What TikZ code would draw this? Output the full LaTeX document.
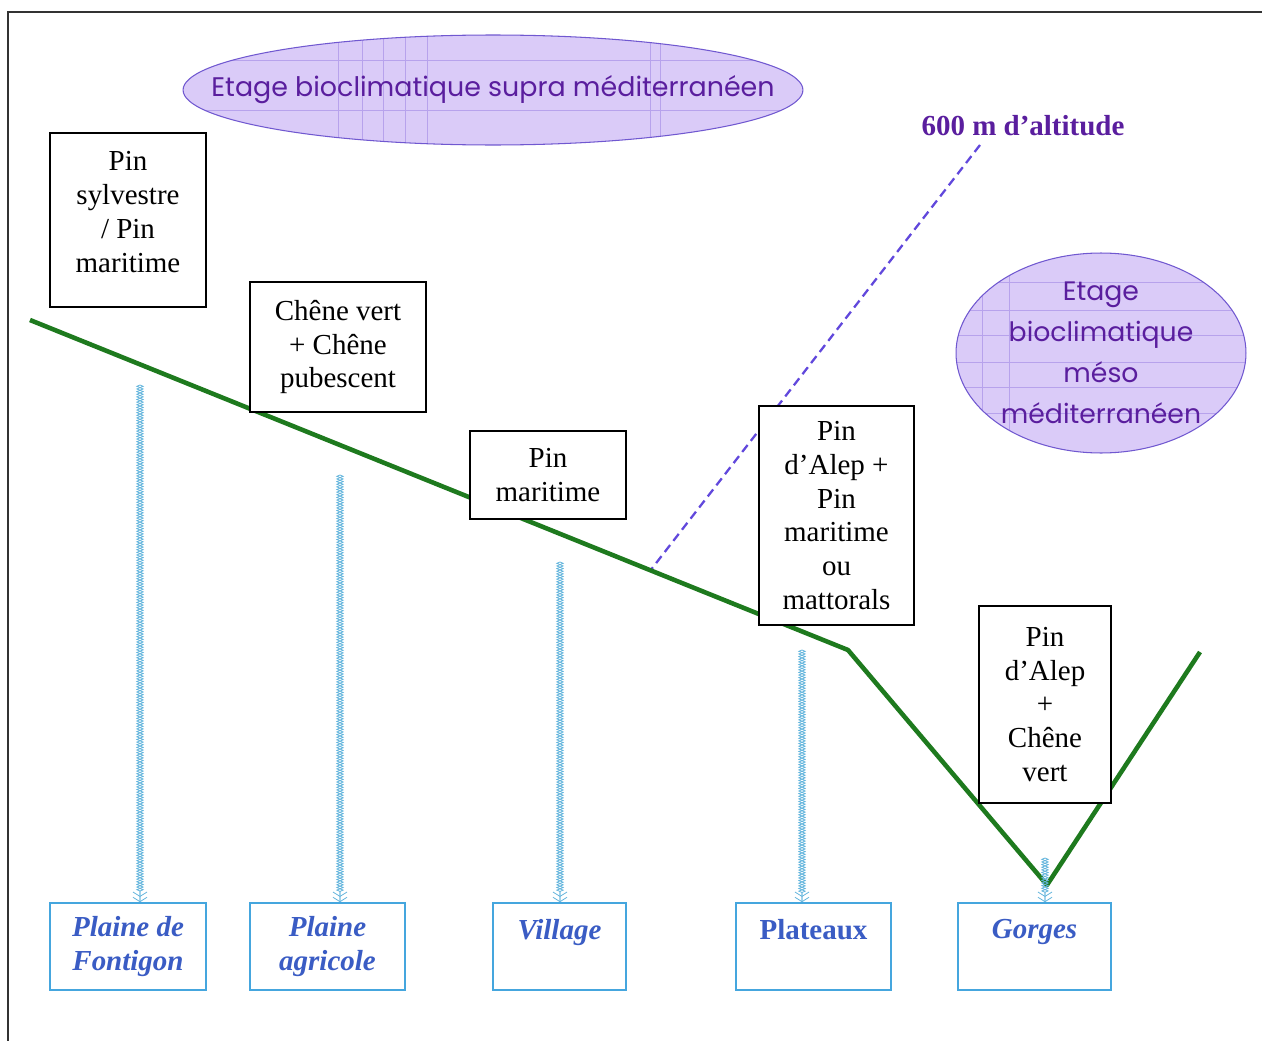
\documentclass[tikz,border=0pt]{standalone}
\usepackage{fontspec}
\setmainfont{Liberation Serif}
\newfontfamily\comicfont{Poppins}
\usetikzlibrary{shapes.geometric,arrows.meta,decorations.pathmorphing}
\definecolor{slope}{HTML}{1E7A1E}
\definecolor{lilac}{HTML}{DACBF8}
\definecolor{lilacline}{HTML}{7058D0}
\definecolor{lilacgrid}{HTML}{B7A2EC}
\definecolor{etagetext}{HTML}{5A1E9E}
\definecolor{placeline}{HTML}{45A6DE}
\definecolor{placetext}{HTML}{3A5CC4}
\definecolor{flowblue}{HTML}{62B4DC}
\definecolor{altblue}{HTML}{6148DC}

\begin{document}
\begin{tikzpicture}[x=0.02cm, y=-0.02cm,
    veg/.style={draw, fill=white, line width=0.8pt, align=center,
      font=\fontsize{16.5}{19.3}\selectfont, inner sep=0pt},
    place/.style={draw=placeline, fill=white, line width=1pt, align=center,
      text=placetext, font=\fontsize{16.5}{19.5}\selectfont\bfseries\itshape,
      minimum height=1.74cm, inner sep=0pt},
    etage/.style={ellipse, draw=lilacline, fill=lilac, line width=0.6pt,
      text=etagetext, align=center},
    gridln/.style={lilacgrid, line width=0.4pt},
    ridge/.style={slope, line width=2.6pt, line join=round},
    flow/.style={draw=none,
      postaction={draw=flowblue, line width=0.45pt, decorate,
        decoration={zigzag, segment length=3pt, amplitude=1.8pt, post length=5pt},
        -{Straight Barb[length=2.5pt,width=8pt] Straight Barb[length=2.5pt,width=8pt]}},
      postaction={draw=flowblue, line width=0.45pt, decorate,
        decoration={zigzag, mirror, segment length=3pt, amplitude=1.8pt, post length=5pt}}},
    altline/.style={altblue, line width=1.3pt, dash pattern=on 5pt off 3pt}]
    \useasboundingbox (0,0) rectangle (1262,1041);
    \draw[black!80, line width=1.1pt] (8,1041) -- (8,12) -- (1262,12);

    \node[etage, minimum width=12.4cm, minimum height=2.2cm,
      inner xsep=-1.6cm, inner ysep=0pt,
      font=\comicfont\fontsize{15.3}{18}\selectfont,
      path picture={
        \foreach \gx in {3.1,3.58,4.0,4.44,4.88,9.34,9.54}
          \draw[gridln] ([xshift=\gx cm]path picture bounding box.north west)
            -- ([xshift=\gx cm]path picture bounding box.south west);
        \foreach \gy in {0.5,1.5}
          \draw[gridln] ([yshift=-\gy cm]path picture bounding box.north west)
            -- ([yshift=-\gy cm]path picture bounding box.north east);
      }] (supra) at (493,90) {Etage bioclimatique supra méditerranéen};
    \node[etage, minimum width=5.8cm, minimum height=4cm,
      inner xsep=-0.5cm, inner ysep=-0.6cm,
      font=\comicfont\fontsize{15.2}{23.3}\selectfont,
      path picture={
        \foreach \gx in {0.52,1.06}
          \draw[gridln] ([xshift=\gx cm]path picture bounding box.north west)
            -- ([xshift=\gx cm]path picture bounding box.south west);
        \foreach \gy in {0.58,1.14,1.64,2.18,2.68,3.2}
          \draw[gridln] ([yshift=-\gy cm]path picture bounding box.north west)
            -- ([yshift=-\gy cm]path picture bounding box.north east);
      }] (meso) at (1101,353) {Etage\\bioclimatique\\méso\\méditerranéen};

    \node[text=etagetext, font=\fontsize{16.5}{19}\selectfont\bfseries] (alt) at (1023,126) {600 m d’altitude};
    \coordinate (d0) at (980,145);
    \coordinate (d1) at (650,571);
    \draw[altline] (d0) -- (d1);

    \coordinate (g0) at (30,320);
    \coordinate (g1) at (848,650);
    \coordinate (g2) at (1047,885);
    \coordinate (g3) at (1200,652);
    \draw[ridge] (g0) -- (g1) -- (g2) -- (g3);

    \node[veg, minimum width=3.12cm, minimum height=3.48cm] (sylv) at (128,220) {Pin\\sylvestre\\/ Pin\\maritime\\[-0.36cm]};
    \node[veg, minimum width=3.52cm, minimum height=2.6cm] (chene) at (338,347) {Chêne vert\\+ Chêne\\pubescent};
    \node[veg, minimum width=3.12cm, minimum height=1.76cm] (mari) at (548,475) {Pin\\maritime};
    \node[veg, minimum width=3.1cm, minimum height=4.38cm] (alep) at (836.5,515.5) {Pin\\d’Alep +\\Pin\\maritime\\ou\\mattorals};
    \node[veg, minimum width=2.64cm, minimum height=3.94cm] (alepg) at (1045,704.5) {Pin\\d’Alep\\+\\Chêne\\vert};

    \node[place, minimum width=3.12cm] (fontigon) at (128,946.5) {Plaine de\\Fontigon};
    \node[place, minimum width=3.1cm] (agri) at (327.5,946.5) {Plaine\\agricole};
    \node[place, minimum width=2.66cm] (village) at (559.5,946.5) {Village\\\mbox{}};
    \node[place, minimum width=3.1cm, font=\fontsize{16.5}{19.5}\selectfont\bfseries] (plateaux) at (813.5,946.5) {Plateaux\\\mbox{}};
    \node[place, minimum width=3.06cm] (gorges) at (1034.5,946.5) {Gorges\\\mbox{}};

    \coordinate (a1) at (140,385);
    \coordinate (a2) at (340,475);
    \coordinate (a3) at (560,562);
    \coordinate (a4) at (802,650);
    \coordinate (a5) at (1045,858);
    \path (a1) edge[flow] (a1 |- fontigon.north);
    \path (a2) edge[flow] (a2 |- agri.north);
    \path (a3) edge[flow] (a3 |- village.north);
    \path (a4) edge[flow] (a4 |- plateaux.north);
    \path (a5) edge[flow] (a5 |- gorges.north);
\end{tikzpicture}
\end{document}
